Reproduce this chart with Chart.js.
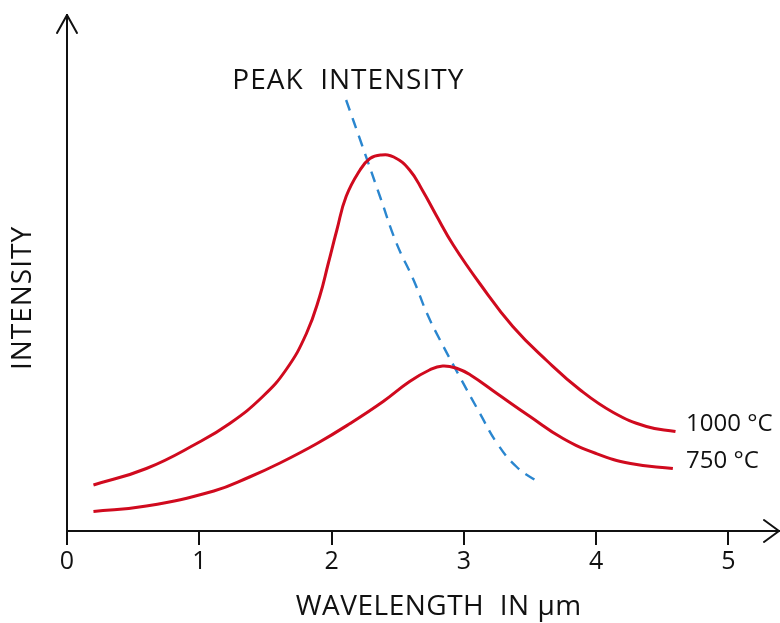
<!DOCTYPE html>
<html>
<head>
<meta charset="utf-8">
<script src="https://cdn.jsdelivr.net/npm/chart.js@4.4.0/dist/chart.umd.min.js"></script>
<style>
html,body{margin:0;padding:0;background:#fff;}
#wrap{width:780px;height:623px;}
</style>
</head>
<body>
<div id="wrap"><canvas id="c"></canvas></div>
<script>
const xTicks = [0, 1, 2, 3, 4, 5];
const curve1000X = [0.2, 0.6, 0.98, 1.23, 1.48, 1.66, 1.81, 1.91, 1.975, 2.04, 2.11, 2.215, 2.29, 2.37, 2.47, 2.59, 2.69, 2.79, 2.92, 3.12, 3.37, 3.63, 3.88, 4.13, 4.38, 4.6];
const curve1000Y = [9.2, 12.5, 17.5, 21.5, 26.9, 32.4, 39.5, 46.9, 53.5, 60.2, 66.9, 72.2, 74.5, 75.2, 74.8, 72.2, 68.0, 63.2, 57.2, 49.5, 40.9, 34.0, 28.2, 23.7, 20.9, 19.9];
const curve750X = [0.2, 0.6, 1.11, 1.38, 1.61, 1.89, 2.14, 2.39, 2.59, 2.74, 2.84, 2.95, 3.05, 3.25, 3.5, 3.75, 4.0, 4.26, 4.58];
const curve750Y = [3.9, 5.0, 8.0, 10.8, 13.6, 17.5, 21.5, 25.9, 29.9, 32.2, 33.0, 32.5, 31.2, 27.5, 22.9, 18.5, 15.5, 13.5, 12.5];
const peakX = [2.11, 2.23, 2.37, 2.49, 2.62, 2.72, 2.82, 2.97, 3.12, 3.25, 3.4, 3.56];
const peakY = [86.2, 77.2, 66.6, 57.6, 50.2, 43.6, 38.2, 30.8, 23.6, 17.6, 12.8, 9.8];
const seriesLabels = ['1000 °C', '750 °C'];
const peakLabel = 'PEAK  INTENSITY';
const xTitle = 'WAVELENGTH  IN μm';
const yTitle = 'INTENSITY';

const pts = (xs, ys) => xs.map((x, i) => ({x: x, y: ys[i]}));
const FONT = '"Open Sans", "DejaVu Sans", sans-serif';

const annot = {
  id: 'annot',
  afterDraw(chart) {
    const ctx = chart.ctx;
    const {left, right, top, bottom} = chart.chartArea;
    const xs = chart.scales.x, ys = chart.scales.y;
    ctx.save();
    ctx.strokeStyle = '#111';
    ctx.lineWidth = 2;
    ctx.lineCap = 'round';
    ctx.lineJoin = 'round';
    // y arrow
    ctx.beginPath();
    ctx.moveTo(left - 10, top + 18);
    ctx.lineTo(left, top);
    ctx.lineTo(left + 10, top + 18);
    ctx.stroke();
    // x arrow
    ctx.beginPath();
    ctx.moveTo(right - 16, bottom - 11);
    ctx.lineTo(right - 1, bottom);
    ctx.lineTo(right - 16, bottom + 11);
    ctx.stroke();
    // labels
    ctx.fillStyle = '#111';
    ctx.textBaseline = 'middle';
    ctx.textAlign = 'left';
    ctx.letterSpacing = '1px';
    ctx.font = '400 28px ' + FONT;
    ctx.fillText(peakLabel, xs.getPixelForValue(1.25), ys.getPixelForValue(90.0));
    ctx.save();
    ctx.translate(left - 44, ys.getPixelForValue(46.6));
    ctx.rotate(-Math.PI / 2);
    ctx.textAlign = 'center';
    ctx.fillText(yTitle, 0, 0);
    ctx.restore();
    // x title
    ctx.textAlign = 'center';
    ctx.letterSpacing = '0.5px';
    ctx.fillText(xTitle, xs.getPixelForValue(2.81), bottom + 76);
    ctx.letterSpacing = '0px';
    ctx.textAlign = 'left';
    ctx.font = '400 24px ' + FONT;
    ctx.fillText(seriesLabels[0], xs.getPixelForValue(4.68), ys.getPixelForValue(21.4));
    ctx.fillText(seriesLabels[1], xs.getPixelForValue(4.68), ys.getPixelForValue(14.0));
    ctx.restore();
  }
};

new Chart(document.getElementById('c'), {
  type: 'line',
  data: {
    datasets: [
      {label: seriesLabels[0], data: pts(curve1000X, curve1000Y), borderColor: '#d00a1e', borderWidth: 3, pointRadius: 0, fill: false, tension: 0.45},
      {label: seriesLabels[1], data: pts(curve750X, curve750Y), borderColor: '#d00a1e', borderWidth: 3, pointRadius: 0, fill: false, tension: 0.45},
      {label: 'peak', data: pts(peakX, peakY), borderColor: '#2a86cf', borderWidth: 2.4, borderDash: [11, 8], pointRadius: 0, fill: false, tension: 0.45}
    ]
  },
  options: {
    responsive: true,
    maintainAspectRatio: false,
    animation: false,
    devicePixelRatio: 1,
    layout: {padding: {top: 15, right: 0, left: 0, bottom: 0}},
    plugins: {legend: {display: false}, tooltip: {enabled: false}},
    scales: {
      x: {
        type: 'linear', min: 0, max: 5.39,
        afterFit(s) { s.height = 92; },
        afterBuildTicks(s) { s.ticks = xTicks.map(v => ({value: v})); },
        ticks: {stepSize: 1, includeBounds: false, color: '#111', font: {family: FONT, size: 25}, padding: 2, maxRotation: 0},
        grid: {display: true, drawOnChartArea: false, drawTicks: true, tickLength: 14, color: '#111', lineWidth: 2},
        border: {display: true, color: '#111', width: 2},
        title: {display: false, text: xTitle}
      },
      y: {
        type: 'linear', min: 0, max: 103.2,
        afterFit(s) { s.width = 67; },
        ticks: {display: false},
        grid: {display: true, drawOnChartArea: false, drawTicks: false, color: '#111', lineWidth: 2},
        border: {display: true, color: '#111', width: 2},
        title: {display: false, text: yTitle}
      }
    }
  },
  plugins: [annot]
});
</script>
</body>
</html>
